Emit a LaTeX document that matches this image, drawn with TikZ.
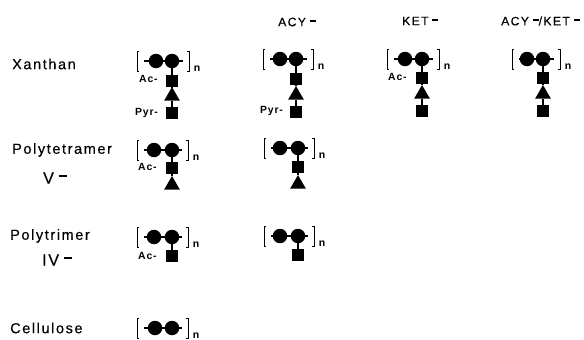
\documentclass[tikz,border=0pt]{standalone}
\usepackage{fontspec}
\setmainfont{Liberation Sans}
\usetikzlibrary{shapes.geometric}
\newfontfamily\lblfont[LetterSpace=11,FakeBold=0.3]{Liberation Sans}
\newfontfamily\hdrfont[LetterSpace=11,FakeBold=0.3]{Liberation Sans}
\newfontfamily\tagfont[LetterSpace=8]{Liberation Sans Bold}
\newcommand{\supminus}{\raisebox{.72ex}{\kern.3em\rule{.5em}{.12em}}}
\tikzset{
  glc/.style={circle,fill=black,draw=none,minimum size=14.5pt,inner sep=0pt},
  sq/.style={rectangle,fill=black,draw=none,minimum size=12.5pt,inner sep=0pt},
  tri/.style={regular polygon,regular polygon sides=3,fill=black,draw=none,minimum size=18pt,inner sep=0pt},
  bond/.style={line width=1.2pt,black},
  brk/.style={line width=.9pt,black},
  lbl/.style={font=\lblfont\fontsize{14.5}{16}\selectfont,inner sep=0pt,anchor=west},
  hdr/.style={font=\hdrfont\fontsize{12.2}{14}\selectfont,inner sep=0pt,anchor=west},
  tag/.style={font=\tagfont\fontsize{10.4}{12}\selectfont,inner sep=0pt,anchor=west},
  sub/.style={font=\fontsize{10.5}{12}\selectfont\bfseries,inner sep=0pt},
}
% name, left bracket x, circle a x, circle b x, right bracket x, centre y
\newcommand{\polyunit}[6]{%
  \node[glc] (#1a) at (#3,#6) {};
  \node[glc] (#1b) at (#4,#6) {};
  \coordinate (#1l) at (#2+7,#6);
  \coordinate (#1r) at (#5-6,#6);
  \draw[bond] (#1l) -- (#1a) -- (#1b) -- (#1r);
  \draw[brk] (#2+2,#6-10) -- (#2,#6-10) -- (#2,#6+10) -- (#2+2,#6+10);
  \draw[brk] (#5-2,#6-10) -- (#5,#6-10) -- (#5,#6+10) -- (#5-2,#6+10);
  \node[sub] (#1n) at (#5+8,#6+8) {n};
}
\begin{document}
\begin{tikzpicture}[x=1pt,y=-1pt]
\useasboundingbox (0,0) rectangle (584,340);
% headers
\node[hdr] (h1) at (278,22) {ACY\supminus};
\node[hdr] (h2) at (402,21) {KET\supminus};
\node[hdr] (h3) at (501,21) {ACY\supminus/KET\supminus};
% row labels
\node[lbl] (r1) at (12,64) {Xanthan};
\node[lbl] (r2) at (12,150) {Polytetramer};
\node[lbl] (r2b) at (43,178) {\fontsize{16}{18}\selectfont V\supminus};
\node[lbl] (r3) at (10,236) {Polytrimer};
\node[lbl] (r3b) at (42,260) {\fontsize{16}{18}\selectfont IV\supminus};
\node[lbl] (r4) at (10,328) {Cellulose};
% Xanthan, column 1
\polyunit{A}{137}{156}{172}{189}{61}
\node[sq] (As1) at (172,81) {};
\node[tri] (At) at (172,96) {};
\node[sq] (As2) at (172,113) {};
\draw[bond] (Ab) -- (As1) -- (At) -- (As2);
\node[tag] (Atg1) at (139,79) {Ac-};
\node[tag] (Atg2) at (135,113) {Pyr-};
% Xanthan, ACY-
\polyunit{B}{263}{280}{296}{313}{59}
\node[sq] (Bs1) at (296,79) {};
\node[tri] (Bt) at (296,95) {};
\node[sq] (Bs2) at (296,112) {};
\draw[bond] (Bb) -- (Bs1) -- (Bt) -- (Bs2);
\node[tag] (Btg2) at (260,111) {Pyr-};
% Xanthan, KET-
\polyunit{C}{387}{405}{422}{439}{59}
\node[sq] (Cs1) at (422,78) {};
\node[tri] (Ct) at (422,94) {};
\node[sq] (Cs2) at (422,111) {};
\draw[bond] (Cb) -- (Cs1) -- (Ct) -- (Cs2);
\node[tag] (Ctg1) at (388,77) {Ac-};
% Xanthan, ACY-/KET-
\polyunit{D}{512}{527}{543}{560}{59}
\node[sq] (Ds1) at (543,78) {};
\node[tri] (Dt) at (543,94) {};
\node[sq] (Ds2) at (543,111) {};
\draw[bond] (Db) -- (Ds1) -- (Dt) -- (Ds2);
% Polytetramer
\polyunit{E}{137}{154}{172}{188}{150}
\node[sq] (Es1) at (172,168) {};
\node[tri] (Et) at (172,185) {};
\draw[bond] (Eb) -- (Es1) -- (Et);
\node[tag] (Etg1) at (138,167) {Ac-};
\polyunit{F}{264}{280}{298}{314}{148}
\node[sq] (Fs1) at (298,167) {};
\node[tri] (Ft) at (298,184) {};
\draw[bond] (Fb) -- (Fs1) -- (Ft);
% Polytrimer
\polyunit{G}{137}{154}{172}{188}{237}
\node[sq] (Gs1) at (172,256) {};
\draw[bond] (Gb) -- (Gs1);
\node[tag] (Gtg1) at (138,256) {Ac-};
\polyunit{H}{264}{280}{298}{314}{236}
\node[sq] (Hs1) at (298,255) {};
\draw[bond] (Hb) -- (Hs1);
% Cellulose
\polyunit{I}{137}{155}{172}{188}{328}
\end{tikzpicture}
\end{document}
